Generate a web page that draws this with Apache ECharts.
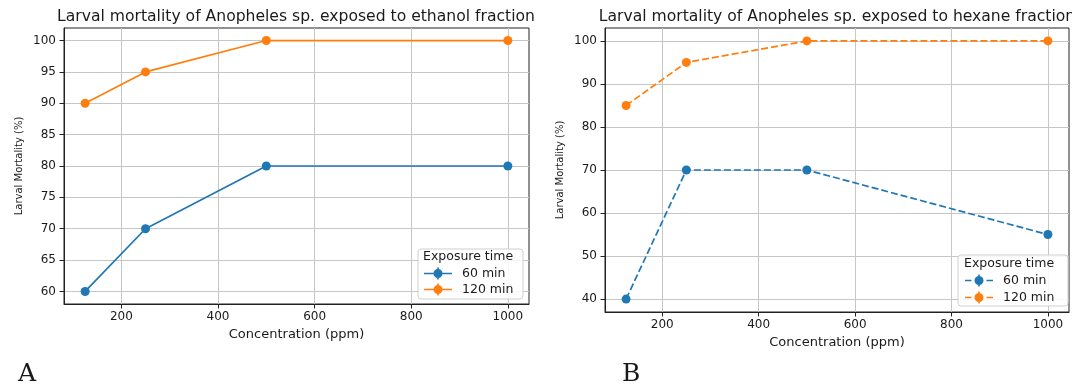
<!DOCTYPE html>
<html>
<head>
<meta charset="utf-8">
<script src="https://cdn.jsdelivr.net/npm/echarts@6/dist/echarts.min.js"></script>
<style>
html,body{margin:0;padding:0;background:#fff;}
#c{width:1072px;height:387px;}
</style>
</head>
<body>
<div id="c"></div>
<script>
// ---- data ----
const concentration = [125, 250, 500, 1000];
const ethanol60 = [60, 70, 80, 80];
const ethanol120 = [90, 95, 100, 100];
const hexane60 = [40, 70, 70, 55];
const hexane120 = [85, 95, 100, 100];
const seriesNames = ['60 min', '120 min'];
const xTicks = [200, 400, 600, 800, 1000];
const yTicksEthanol = [60, 65, 70, 75, 80, 85, 90, 95, 100];
const yTicksHexane = [40, 50, 60, 70, 80, 90, 100];
const titles = ['Larval mortality of Anopheles sp. exposed to ethanol fraction',
                'Larval mortality of Anopheles sp. exposed to hexane fraction'];
const xLabel = 'Concentration (ppm)';
const yLabel = 'Larval Mortality (%)';
const legendTitle = 'Exposure time';
const panelLabels = ['A', 'B'];

const BLUE = '#1f77b4', ORANGE = '#ff7f0e';
const FONT = 'DejaVu Sans';
const TXT = '#1a1a1a';

function pairs(xs, ys) { return xs.map((x, i) => [x, ys[i]]); }

const circ = 'M18.5,6 A4.5,4.5 0 1 1 9.5,6 A4.5,4.5 0 1 1 18.5,6 Z';
const bar = 'M13.2,0 L14.8,0 L14.8,12 L13.2,12 Z';
const solidIcon = 'path://M0,5.2 L28,5.2 L28,6.8 L0,6.8 Z ' + bar + ' ' + circ;
const dashIcon = 'path://M0,5.2 L6.5,5.2 L6.5,6.8 L0,6.8 Z M10,5.2 L18,5.2 L18,6.8 L10,6.8 Z M21.5,5.2 L28,5.2 L28,6.8 L21.5,6.8 Z ' + bar + ' ' + circ;

const grids = [
  {left: 64, top: 28, width: 465, height: 276},
  {left: 605, top: 28, width: 464, height: 284}
];

function xAxis(i) {
  return {
    gridIndex: i, type: 'value', min: 81.25, max: 1043.75,
    axisLine: {show: true, onZero: false, lineStyle: {color: '#222', width: 1}},
    axisTick: {show: true, inside: false, length: 4.5, lineStyle: {color: '#222', width: 1}, customValues: xTicks},
    axisLabel: {customValues: xTicks, formatter: v => String(v), fontSize: 12, fontFamily: FONT, color: TXT, margin: 7},
    splitLine: {show: true, lineStyle: {color: '#c6c6c6', width: 1}},
    name: xLabel, nameLocation: 'middle', nameGap: 20,
    nameTextStyle: {fontSize: 13, fontFamily: FONT, color: TXT}
  };
}
function yAxis(i, min, max, ticks) {
  return {
    gridIndex: i, type: 'value', min: min, max: max,
    axisLine: {show: true, onZero: false, lineStyle: {color: '#222', width: 1}},
    axisTick: {show: true, inside: false, length: 4.5, lineStyle: {color: '#222', width: 1}, customValues: ticks},
    axisLabel: {customValues: ticks, formatter: v => String(v), fontSize: 12, fontFamily: FONT, color: TXT, margin: 8},
    splitLine: {show: true, lineStyle: {color: '#c6c6c6', width: 1}},
    name: yLabel, nameLocation: 'middle', nameGap: 40,
    nameTextStyle: {fontSize: 10, fontFamily: FONT, color: TXT}
  };
}
function line(name, i, ys, color, dashed) {
  return {
    name: name, type: 'line', xAxisIndex: i, yAxisIndex: i,
    data: pairs(concentration, ys), symbol: 'circle', symbolSize: 9,
    lineStyle: {color: color, width: 1.7, type: dashed ? [7, 3] : 'solid'},
    itemStyle: {color: color, borderWidth: 0},
    emphasis: {disabled: true}, animation: false, z: 3
  };
}
function legend(i, left, top, icon, gap) {
  return {
    orient: 'vertical', left: left, top: top, padding: 0, itemWidth: 28, itemHeight: 12, itemGap: gap,
    selectedMode: false, z: 20,
    itemStyle: {borderWidth: 0},
    textStyle: {fontSize: 12.5, fontFamily: FONT, color: TXT, padding: [0, 0, 0, 5], lineHeight: 12},
    data: seriesNames.map(n => ({name: n, icon: icon}))
  };
}
function txt(str, x, y, size, align, family) {
  return {type: 'text', x: x, y: y, z: 30,
    style: {text: str, fontSize: size, fontFamily: family || FONT, fill: TXT, align: align, verticalAlign: 'middle'}};
}
function box(x, y, w, h) {
  return {type: 'rect', z: 15, shape: {x: x, y: y, width: w, height: h, r: 3},
    style: {fill: 'rgba(255,255,255,0.85)', stroke: '#cfcfcf', lineWidth: 1}};
}

const chart = echarts.init(document.getElementById('c'), null, {renderer: 'canvas'});
chart.setOption({
  animation: false,
  backgroundColor: '#fff',
  grid: grids.map(g => Object.assign({show: true, borderColor: '#222', borderWidth: 1, backgroundColor: 'transparent'}, g)),
  xAxis: [xAxis(0), xAxis(1)],
  yAxis: [yAxis(0, 58, 102, yTicksEthanol), yAxis(1, 37, 103, yTicksHexane)],
  legend: [legend(0, 424, 267, solidIcon, 3), legend(1, 965, 274, dashIcon, 4)],
  series: [
    line(seriesNames[0], 0, ethanol60, BLUE, false),
    line(seriesNames[1], 0, ethanol120, ORANGE, false),
    line(seriesNames[0], 1, hexane60, BLUE, true),
    line(seriesNames[1], 1, hexane120, ORANGE, true)
  ],
  graphic: [
    box(418, 249, 105, 50),
    box(958, 255, 110, 51),
    txt(legendTitle, 423, 257, 12.5, 'left'),
    txt(legendTitle, 964, 264, 12.5, 'left'),
    txt(titles[0], 296, 16.5, 15.6, 'center'),
    txt(titles[1], 837, 16.5, 15.6, 'center'),
    txt(panelLabels[0], 18, 374, 25, 'left', 'DejaVu Serif'),
    txt(panelLabels[1], 622, 374, 25, 'left', 'DejaVu Serif')
  ]
});
</script>
</body>
</html>
